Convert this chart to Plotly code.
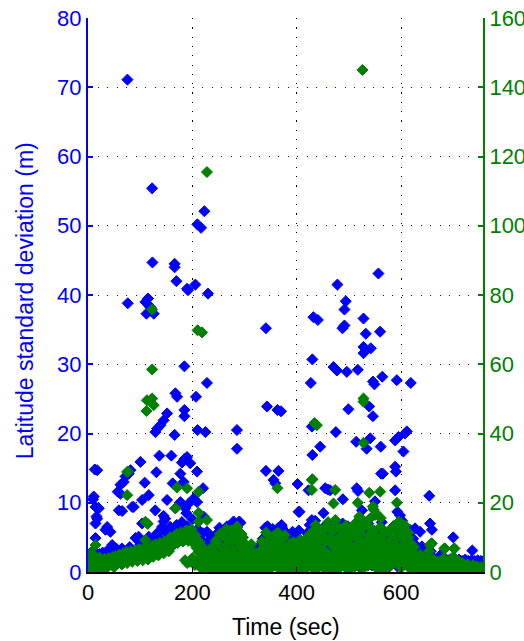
import plotly.graph_objects as go

# ---------------- data ----------------
# Blue series: latitude standard deviation (m), left axis
blue_t = [
    75.6, 122.9, 223, 209.6, 216.6, 123.5, 166, 166, 169.4, 189.8, 191.7, 205.8, 230, 76.2, 110, 116.4, 112, 126, 120, 115, 341,
    556.6, 478, 494, 491.5, 432, 440.5, 528, 491.5, 487.7, 532.4, 559.8, 528, 542, 528, 430, 470.5, 477, 496, 517, 427, 546, 549,
    564, 591.8, 618.6, 499, 538.8, 546, 429, 475, 370, 363, 343,
    184.7, 228, 167.5, 170.7, 207, 184.7, 184.7, 151.6, 145, 138.8, 132.5, 129.2, 166, 210, 225, 285.5, 285.5,
    136.8, 159.8, 189.8, 184.7, 196, 180, 13, 100.5, 81.4, 78, 71.8, 68.5, 62.2, 57, 108.7, 131, 177, 209, 162.3, 183.4, 220.5,
    11, 9.6, 62.2, 103.7, 116.4, 177, 151.5, 14.4, 65.4, 59, 87.7, 209, 202.5, 129, 16.3, 167.5, 145, 188.5, 221.6, 14.4, 36.7,
    33.5, 103.7, 145, 158, 167.5, 180, 228, 91, 14.4, 116.4, 132.5, 46.3, 279, 269.5, 290, 260, 340, 365, 374.8, 341, 365, 355.6,
    359, 401.6, 403.5, 422.6,
    514, 540.7, 534, 561, 595, 588.6, 607.7, 611, 604.5, 588.6, 590, 565, 588.6, 515, 517.5, 654, 550, 525, 593, 598, 655.5, 659,
    636.4, 700, 736.5, 640, 617, 620.6, 569.4, 502.4, 445, 430, 454.6, 464, 488.4, 405.4, 429, 435.4, 451.3, 266.4, 292, 285.5,
    295, 343, 371.7, 378, 403.5, 250, 459.7, 561.7, 626.8, 17.6, 20.7, 17.6, 43, 97, 148, 142, 186.6, 193, 84.6,
    1, 2, 3, 5, 6, 8, 9, 11, 12, 14, 16, 18, 20, 22, 24, 26, 28, 30, 32, 34, 36, 38, 40, 42, 44, 46, 48, 50, 52, 54, 56, 58, 60,
    65, 70, 80, 90, 100, 110, 120, 130, 140, 150, 160, 170, 180, 190, 200, 205, 210, 215, 220, 225, 230,
    232, 235, 238, 240, 243, 246, 248, 250, 253, 256, 258, 261, 264, 266, 269, 272, 274, 277, 280, 283, 286, 288, 291, 294, 297,
    300, 303, 306, 309, 312, 315, 318, 321, 324, 327, 330, 333, 336, 339, 342, 345, 348, 351, 354, 357, 360, 363, 366, 369, 372,
    375, 378, 381, 384, 387, 390, 393, 396, 399, 402, 405, 408, 411, 414, 417, 420, 423, 426, 429, 432, 435, 438, 441, 444, 447,
    450, 453, 456, 459, 462, 465, 468, 471, 474, 477, 480, 483, 486, 489, 492, 495, 498, 501, 504, 507, 510, 513, 516, 519, 522,
    525, 528, 531, 534, 537, 540, 543, 546, 549, 552, 555, 558, 561, 564, 567, 570, 573, 576, 579, 582, 585, 588, 591, 594, 597,
    600, 603, 606, 609, 612, 615, 618, 621, 624, 627, 630, 633, 636, 639, 642, 645, 648, 651, 654, 657, 660, 663, 666, 669, 672,
    675, 678, 681, 684, 687, 690, 693, 696, 699, 702, 705, 708, 711, 714, 717, 720, 723, 726, 729, 732, 735, 738, 741, 744, 747,
    750, 753, 756,
]
blue_v = [
    71.1, 55.4, 52.1, 50.2, 49.7, 44.7, 44.5, 44.0, 42.0, 40.9, 40.7, 41.5, 40.2, 38.8, 39.0, 38.5, 37.3, 37.3, 38.2, 39.5, 35.2,
    43.1, 41.5, 39.1, 37.9, 36.8, 36.4, 36.6, 35.6, 35.2, 34.4, 34.7, 32.5, 32.3, 31.6, 30.7, 29.6, 29.1, 28.9, 29.2, 27.3, 27.5, 27.1,
    28.2, 27.7, 27.3, 23.5, 23.9, 22.5, 21.0, 20.2, 23.2, 23.4, 23.9,
    29.7, 27.3, 25.8, 25.3, 25.3, 23.4, 22.5, 22.9, 21.9, 21.2, 20.7, 20.2, 19.8, 20.5, 20.2, 20.5, 17.8,
    16.8, 16.8, 16.6, 16.3, 15.7, 15.8, 14.8, 15.9, 14.7, 14.2, 13.8, 13.0, 12.6, 11.6, 12.9, 14.4, 14.2, 14.5, 12.8, 13.0, 12.1,
    10.9, 10.5, 11.3, 10.4, 11.1, 10.1, 10.4, 9.4, 8.8, 8.9, 9.4, 10.1, 10.6, 8.9, 8.0, 9.2, 8.1, 8.5, 8.0, 7.0, 6.5,
    6.1, 7.0, 7.3, 6.5, 6.1, 6.1, 5.8, 4.9, 4.9, 5.1, 5.6, 3.9, 7.3, 6.5, 7.3, 5.1, 6.4, 6.4, 5.6, 14.6, 14.6, 13.3,
    12.8, 12.7, 8.7, 11.8,
    18.8, 19.3, 17.8, 18.1, 19.5, 19.0, 20.0, 20.3, 17.4, 15.2, 14.5, 14.2, 11.8, 12.1, 11.7, 11.0, 10.2, 8.9, 8.7, 8.2, 7.0, 6.1,
    5.8, 5.0, 3.1, 3.7, 6.1, 4.6, 5.1, 4.1, 18.1, 16.9, 12.1, 11.8, 10.5, 8.7, 7.5, 7.4, 8.5, 6.6, 7.1, 6.4,
    5.1, 6.3, 6.5, 5.8, 4.6, 2.2, 11.9, 14.2, 6.3, 14.7, 9.2, 7.7, 5.8, 5.1, 7.7, 6.5, 9.2, 9.9, 9.4,
    1.8, 0.8, 2.6, 1.4, 2.2, 3.0, 1.6, 2.4, 1.0, 2.8, 1.8, 2.4, 1.4, 2.6, 2.0, 1.6, 2.8, 2.2, 1.8, 2.6, 3.0, 2.0, 2.4, 1.6, 3.2, 2.2, 2.8, 1.8, 2.6, 3.4, 2.0, 2.6, 3.0,
    3.4, 2.8, 3.6, 3.0, 4.0, 3.6, 4.4, 5.0, 4.6, 5.6, 6.0, 6.8, 7.2, 6.6, 7.6, 5.4, 6.2, 4.8, 5.6, 3.6, 4.4,
    3.2, 1.2, 4.6, 2.4, 0.6, 3.6, 5.6, 2.2, 1.0, 4.2, 2.8, 5.2, 1.6, 3.8, 0.8, 4.8, 2.6, 6.0, 1.4, 3.4, 5.4, 2.0, 0.8, 4.0, 2.6,
    1.4, 3.2, 0.6, 2.2, 1.2, 2.8, 0.8, 1.8, 1.0, 2.4, 1.4, 3.0, 0.6, 4.4, 2.0, 5.8, 1.2, 3.6, 6.2, 2.4, 4.8, 1.0, 3.2, 5.6, 2.0,
    4.0, 0.8, 3.0, 1.6, 4.6, 2.4, 1.0, 3.8, 5.2, 2.0, 3.4, 0.8, 2.6, 4.4, 1.4, 5.6, 3.0, 1.0, 4.2, 2.2, 6.4, 1.6, 3.6, 5.0, 2.4,
    0.8, 4.0, 6.8, 2.0, 3.4, 5.6, 1.2, 4.6, 2.8, 6.0, 1.6, 3.8, 5.0, 2.2, 0.8, 4.4, 6.6, 2.6, 1.2, 3.8, 5.4, 2.0, 4.2, 0.8, 6.2,
    3.0, 1.6, 4.8, 2.4, 7.0, 3.4, 1.0, 5.2, 2.6, 4.0, 0.8, 6.0, 2.2, 3.6, 1.2, 4.6, 2.8, 5.8, 1.6, 3.8, 6.6, 2.0, 4.4, 1.0, 5.6,
    3.0, 6.2, 2.4, 4.0, 1.4, 3.2, 5.0, 2.0, 3.6, 1.6, 2.8, 1.8, 3.4, 2.2, 1.6, 2.6, 1.4, 2.2, 1.8, 3.0, 1.6, 2.0, 1.4, 1.8, 1.5,
    2.4, 1.6, 1.4, 2.0, 1.6, 1.4, 1.8, 1.5, 1.6, 2.0, 1.4, 1.6, 1.8, 1.4, 1.6, 1.5, 1.8, 1.4, 1.6, 1.5, 1.7, 1.4, 1.6, 1.5, 1.7,
    1.4, 1.6, 1.5,
]
# more blue readings in the dense strip (time, value)
blue_dense = [
    (234, 2.0), (237, 5.0), (241, 0.8), (245, 3.0), (249, 1.6), (252, 6.4), (255, 3.8), (259, 1.2), (263, 4.4), (267, 2.2),
    (271, 6.6), (275, 1.0), (279, 3.6), (282, 5.0), (285, 2.4), (289, 0.6), (293, 3.0), (296, 1.8), (299, 0.8), (302, 2.4),
    (305, 1.6), (308, 0.4), (311, 3.4), (314, 1.8), (317, 0.6), (320, 2.6), (323, 1.2), (326, 3.6), (329, 0.8), (332, 2.0),
    (335, 4.8), (338, 1.2), (341, 3.0), (344, 6.6), (347, 0.8), (350, 4.2), (353, 2.6), (356, 1.4), (359, 3.6), (362, 5.2),
    (365, 0.8), (368, 2.8), (371, 6.8), (374, 1.6), (377, 3.4), (380, 0.6), (383, 4.8), (386, 2.2), (389, 1.0), (392, 5.8),
    (395, 3.6), (398, 0.8), (401, 2.4), (404, 6.0), (407, 1.4), (410, 3.8), (413, 2.0), (416, 4.6), (419, 0.8), (422, 3.4),
    (425, 6.8), (428, 2.2), (431, 1.0), (434, 4.6), (437, 3.0), (440, 5.8), (443, 0.8), (446, 2.6), (449, 4.2), (452, 1.4),
    (455, 5.2), (458, 3.2), (461, 0.6), (464, 2.0), (467, 6.2), (470, 4.0), (473, 1.2), (476, 3.4), (479, 5.0), (482, 0.8),
    (485, 2.6), (488, 7.0), (491, 1.6), (494, 4.2), (497, 3.0), (500, 0.6), (503, 5.6), (506, 2.2), (509, 3.8), (512, 1.2),
    (515, 6.8), (518, 2.6), (521, 4.4), (524, 0.8), (527, 3.6), (530, 5.4), (533, 1.4), (536, 2.8), (539, 6.4), (542, 4.0),
    (545, 1.0), (548, 3.2), (551, 5.8), (554, 2.0), (557, 0.8), (560, 4.6), (563, 7.2), (566, 1.8), (569, 3.0), (572, 5.2),
    (575, 0.6), (578, 2.4), (581, 4.0), (584, 6.4), (587, 1.6), (590, 3.6), (593, 0.8), (596, 5.0), (599, 2.8), (602, 7.4),
    (605, 1.2), (608, 4.4), (611, 2.2), (614, 6.0), (617, 3.4), (620, 1.0), (623, 4.8), (626, 2.6), (629, 3.8), (632, 1.4),
]

# Green series: right axis (0-160)
green_t = [
    526, 228, 210, 218.6, 123, 123, 113, 123, 126, 112, 528, 528, 434, 438.6, 528,
    75, 77, 75, 170.7, 189.8, 212, 167.5, 212, 110, 114.5, 212, 228, 110, 14.4, 430,
    285.5, 365, 363, 429, 429, 473.7, 470.5, 539, 560, 517, 546, 592, 599.4, 659, 683, 702, 547, 550, 655.5, 288.6,
    1, 2, 3, 5, 6, 8, 10, 11, 13, 15, 17, 18, 20, 22, 24, 26, 28, 30, 32, 34, 36, 38, 40, 42, 44, 46, 48, 50, 52, 54, 56, 58, 60,
    62, 64, 66, 68, 70, 72, 74, 76, 78, 80, 82, 84, 86, 88, 90, 92, 94, 96, 98, 100, 102, 104, 106, 108, 110, 112, 114, 116, 118, 120,
    65, 75, 85, 95, 105, 115, 20, 35, 50,
    122, 124, 126, 128, 130, 132, 134, 136, 138, 140, 142, 144, 146, 148, 150, 152, 154, 156, 158, 160, 162, 164, 166, 168, 170,
    172, 174, 176, 178, 180, 182, 184, 186, 188, 190, 192, 194, 196, 198, 200, 202, 204, 206, 208, 210, 212, 214, 216, 218, 220,
    222, 224, 226, 228, 230,
    125, 135, 145, 155, 186, 190, 195, 200, 205, 210, 215, 220, 225,
    232, 234, 236, 238, 240, 242, 244, 246, 248, 250, 252, 254, 256, 258, 260, 262, 264, 266, 268, 270, 272, 274, 276, 278, 280,
    282, 284, 286, 288, 290, 292, 294, 296, 298, 300, 302, 304, 306, 308, 310, 312, 314, 316, 318, 320, 322, 324, 326, 328, 330,
    332, 334, 336, 338, 340, 342, 344, 346, 348, 350, 352, 354, 356, 358, 360, 362, 364, 366, 368, 370, 372, 374, 376, 378, 380,
    382, 384, 386, 388, 390, 392, 394, 396, 398, 400, 402, 404, 406, 408, 410, 412, 414, 416, 418, 420, 422, 424, 426, 428, 430,
    432, 434, 436, 438, 440, 442, 444, 446, 448, 450, 452, 454, 456, 458, 460, 462, 464, 466, 468, 470, 472, 474, 476, 478, 480,
    482, 484, 486, 488, 490, 492, 494, 496, 498, 500, 502, 504, 506, 508, 510, 512, 514, 516, 518, 520, 522, 524, 526, 528, 530,
    532, 534, 536, 538, 540, 542, 544, 546, 548, 550, 552, 554, 556, 558, 560, 562, 564, 566, 568, 570, 572, 574, 576, 578, 580,
    582, 584, 586, 588, 590, 592, 594, 596, 598, 600, 602, 604, 606, 608, 610, 612, 614, 616, 618, 620, 622, 624, 626, 628, 630,
    632, 634, 636, 638, 640, 642, 644, 646, 648, 650, 652, 654, 656, 658, 660, 662, 664, 666, 668, 670, 672, 674, 676, 678, 680,
    682, 684, 686, 688, 690, 692, 694, 696, 698, 700, 702, 704, 706, 708, 710, 712, 714, 716, 718, 720, 722, 724, 726, 728, 730,
    732, 734, 736, 738, 740, 742, 744, 746, 748, 750, 752, 754, 756,
]
green_v = [
    145, 115.5, 69.8, 69.2, 75.8, 58.5, 49.6, 50.1, 48.2, 46.5, 50.1, 49.2, 43.0, 42.4, 37.3,
    28.9, 29.0, 22.2, 24.4, 24.2, 23.2, 18.4, 17.1, 14.5, 13.9, 14.5, 15.0, 9.2, 7.8, 26.8,
    13.1, 11.2, 24.2, 26.6, 23.7, 23.7, 19.8, 22.9, 23.2, 20.0, 18.9, 20.0, 12.8, 8.3, 6.8, 6.8, 18.1, 16.5, 7.8, 11.6,
    2.0, 4.5, 1.0, 3.0, 5.5, 2.0, 1.2, 3.6, 2.4, 4.0, 1.5, 3.0, 2.2, 4.2, 1.8, 3.4, 2.6, 1.6, 3.8, 2.8, 1.9, 3.2, 4.0, 2.4, 3.6, 2.0, 4.4, 3.0, 2.2, 4.6, 3.4, 2.6, 5.0,
    3.6, 4.8, 3.0, 5.4, 4.0, 3.2, 5.8, 4.4, 3.4, 5.0, 6.0, 3.8, 4.8, 5.6, 4.2, 6.2, 5.0, 3.8, 6.6, 5.4, 4.4, 6.0, 5.0, 7.0, 4.6, 6.4, 5.6, 4.2, 6.8, 5.2,
    2.2, 2.6, 3.0, 3.2, 3.4, 3.6, 0.6, 1.0, 1.4,
    6.2, 7.6, 5.6, 7.0, 8.0, 6.4, 5.2, 7.4, 8.4, 6.0, 7.8, 6.8, 8.6, 7.2, 6.4, 9.0, 7.6, 8.4, 10.0, 8.8, 9.6, 7.8, 10.4, 9.0, 11.0,
    8.4, 10.0, 9.2, 11.4, 10.2, 8.8, 11.0, 9.6, 12.0, 10.4, 9.0, 11.6, 10.0, 12.4, 9.4, 11.0, 8.0, 10.6, 7.0, 9.2, 5.8, 8.6, 4.2, 7.4, 3.0,
    6.0, 2.0, 4.8, 1.2, 3.2,
    4.4, 4.8, 5.4, 6.0, 3.4, 2.6, 3.0, 4.0, 2.0, 2.6, 1.4, 1.0, 0.6,
    0.8, 4.0, 2.0, 6.0, 1.0, 3.2, 0.4, 5.0, 2.4, 8.0, 1.2, 4.6, 0.6, 6.8, 3.0, 10.0, 1.6, 5.4, 0.8, 8.6, 3.6, 12.0, 2.0, 6.4, 0.6,
    9.6, 4.2, 13.0, 1.4, 7.2, 2.8, 11.0, 0.8, 5.6, 3.4, 8.0, 1.0, 4.4, 0.4, 6.2, 2.0, 3.8, 0.8, 5.0, 1.6, 2.8, 0.6, 4.0, 1.2, 6.0,
    2.4, 0.6, 3.6, 7.6, 1.4, 5.2, 9.0, 2.6, 0.8, 6.6, 3.8, 10.2, 1.8, 7.0, 4.6, 11.2, 2.2, 8.2, 0.6, 5.8, 3.0, 9.6, 1.2, 6.4, 2.8,
    4.6, 0.8, 7.8, 3.4, 1.6, 5.6, 8.6, 2.0, 4.0, 0.6, 6.8, 2.6, 9.2, 1.0, 5.0, 3.2, 7.4, 0.8, 4.6, 8.4, 2.2, 6.0, 11.0, 1.4, 4.8,
    9.8, 2.6, 13.6, 0.8, 7.2, 3.8, 10.4, 1.8, 6.2, 12.2, 3.0, 8.8, 0.6, 5.4, 14.4, 2.4, 9.6, 4.4, 11.8, 1.2, 7.0, 15.0, 3.4, 8.2, 0.8,
    12.6, 5.8, 2.0, 10.2, 6.8, 1.6, 13.4, 4.2, 9.0, 0.8, 7.6, 3.0, 11.4, 5.2, 1.4, 14.0, 6.6, 9.8, 2.6, 16.0, 4.8, 12.4, 0.8, 8.6, 3.6,
    13.8, 6.0, 1.8, 10.6, 15.4, 4.0, 8.0, 2.2, 12.0, 6.8, 17.0, 1.0, 9.4, 4.6, 13.0, 2.8, 7.4, 10.8, 0.6, 5.6, 8.4, 3.2, 11.6, 1.6, 6.2,
    9.0, 2.4, 13.2, 4.8, 7.8, 11.0, 3.0, 14.6, 6.4, 1.2, 12.2, 9.4, 4.2, 13.4, 7.0, 2.0, 10.0, 5.2, 0.8, 8.0, 3.6, 1.4, 5.0, 2.4, 0.6,
    3.8, 1.6, 4.4, 0.8, 2.8, 1.2, 3.4, 0.6, 2.0, 4.2, 1.0, 6.0, 2.6, 8.2, 1.4, 3.6, 0.6, 2.2, 1.0, 3.0, 0.4, 1.8, 0.8, 2.6, 1.2,
    4.0, 6.8, 0.6, 2.2, 1.4, 3.0, 0.8, 2.0, 1.0, 4.4, 6.8, 0.6, 2.4, 1.2, 3.2, 0.6, 1.8, 0.8, 2.6, 1.0, 0.4, 1.6, 0.6, 2.2, 1.0,
    0.4, 1.4, 0.8, 2.0, 0.6, 1.2, 0.4, 1.6, 0.8, 1.0, 0.4, 1.2, 0.6,
]
# more green readings in the dense strip (time, value on right axis)
green_dense = [
    (233, 3.0), (237, 7.0), (241, 1.8), (245, 9.0), (249, 4.2), (253, 11.0), (257, 2.6), (261, 6.6), (265, 12.4), (269, 3.8),
    (273, 9.4), (277, 5.0), (281, 11.8), (285, 2.2), (289, 8.4), (293, 4.6), (297, 10.0), (301, 1.8), (305, 6.0), (309, 3.2),
    (313, 8.0), (317, 2.4), (321, 5.4), (325, 1.2), (329, 3.6), (333, 8.8), (337, 4.8), (341, 11.4), (345, 6.4), (349, 3.2),
    (353, 8.6), (357, 5.2), (361, 9.8), (365, 2.8), (369, 7.0), (373, 4.2), (377, 10.6), (381, 6.0), (385, 2.0), (389, 8.2),
    (393, 4.4), (397, 6.8), (401, 1.6), (405, 5.2), (409, 8.0), (413, 3.0), (417, 6.6), (421, 10.2), (425, 4.0), (429, 7.8),
    (433, 12.0), (437, 5.6), (441, 9.2), (445, 3.2), (449, 10.8), (453, 6.0), (457, 13.0), (461, 4.4), (465, 8.4), (469, 2.4),
    (473, 12.8), (477, 6.2), (481, 10.0), (485, 3.6), (489, 8.0), (493, 11.8), (497, 5.4), (501, 9.6), (505, 2.8), (509, 12.6),
    (513, 7.4), (517, 4.0), (521, 11.2), (525, 6.8), (529, 14.6), (533, 3.4), (537, 9.2), (541, 12.8), (545, 5.8), (549, 10.4),
    (553, 2.6), (557, 8.6), (561, 15.6), (565, 4.8), (569, 11.6), (573, 7.0), (577, 3.0), (581, 12.4), (585, 6.0), (589, 9.6),
    (593, 14.0), (597, 4.2), (601, 10.8), (605, 6.8), (609, 3.0), (613, 11.4), (617, 5.6), (621, 2.4), (625, 7.2), (629, 3.6),
    (633, 1.6), (637, 5.0), (641, 2.4), (645, 1.2), (649, 2.2), (653, 1.4), (657, 2.0), (661, 1.0), (665, 2.2), (669, 1.2),
    (673, 0.6), (677, 1.8), (681, 1.0), (685, 2.0), (689, 0.8), (693, 1.6), (697, 1.0), (701, 0.6), (705, 1.8), (709, 1.0),
    (713, 0.6), (717, 1.4), (721, 2.0), (725, 0.8), (729, 0.6), (733, 1.4), (737, 0.8), (741, 0.6), (745, 1.2), (749, 0.8),
    (753, 1.4), (757, 0.6),
]

x_ticks = [0, 200, 400, 600]
left_ticks = [0, 10, 20, 30, 40, 50, 60, 70, 80]
right_ticks = [0, 20, 40, 60, 80, 100, 120, 140, 160]

blue_x = blue_t + [p[0] for p in blue_dense]
blue_y = blue_v + [p[1] for p in blue_dense]
green_x = green_t + [p[0] for p in green_dense]
green_y = green_v + [p[1] for p in green_dense]

BLUE = "#0000FF"
GREEN = "#008000"
FONT = "Liberation Sans, Arial, Helvetica, sans-serif"

fig = go.Figure()
fig.add_trace(go.Scatter(
    x=blue_x, y=blue_y, mode="markers", yaxis="y",
    marker=dict(symbol="diamond", size=8.5, color=BLUE, line=dict(width=1, color=BLUE)),
    showlegend=False, hoverinfo="skip"))
fig.add_trace(go.Scatter(
    x=green_x, y=green_y, mode="markers", yaxis="y2",
    marker=dict(symbol="diamond", size=8.5, color=GREEN, line=dict(width=1, color=GREEN)),
    showlegend=False, hoverinfo="skip"))

fig.update_layout(
    width=524, height=641,
    margin=dict(l=88, r=41, t=18, b=69, pad=0),
    paper_bgcolor="white", plot_bgcolor="white",
    template="none",
    font=dict(family=FONT, size=22, color="black"),
    xaxis=dict(
        range=[0, 757], tickvals=x_ticks, ticktext=[str(v) for v in x_ticks],
        ticks="inside", ticklen=5, tickcolor="black", tickwidth=1,
        showline=True, linecolor="black", linewidth=1.5, mirror=False,
        showgrid=True, gridcolor="black", gridwidth=1.2, griddash="1.2px,8.1px",
        zeroline=False, automargin=False,
        tickfont=dict(family=FONT, size=22, color="black"),
    ),
    yaxis=dict(
        range=[0, 80], tickvals=left_ticks, ticktext=[str(v) for v in left_ticks],
        ticks="inside", ticklen=5, tickcolor=BLUE, tickwidth=1.5,
        showline=True, linecolor=BLUE, linewidth=2, mirror=False,
        showgrid=True, gridcolor=BLUE, gridwidth=1.2, griddash="1.2px,8.3px",
        zeroline=False, automargin=False,
        tickfont=dict(family=FONT, size=22, color=BLUE),
    ),
    yaxis2=dict(
        range=[0, 160], tickvals=right_ticks, ticktext=[str(v) for v in right_ticks],
        overlaying="y", side="right", anchor="x",
        ticks="inside", ticklen=5, tickcolor=GREEN, tickwidth=1.5,
        showline=True, linecolor=GREEN, linewidth=2, mirror=False,
        showgrid=False, zeroline=False, automargin=False,
        tickfont=dict(family=FONT, size=22, color=GREEN),
    ),
    annotations=[
        dict(text="Latitude standard deviation (m)", textangle=-90,
             xref="paper", yref="paper", x=-0.16, y=0.49,
             xanchor="center", yanchor="middle", showarrow=False,
             font=dict(family=FONT, size=23, color=BLUE)),
        dict(text="Time (sec)",
             xref="paper", yref="paper", x=0.5, y=-0.0994,
             xanchor="center", yanchor="middle", showarrow=False,
             font=dict(family=FONT, size=23, color="black")),
    ],
)

fig.write_html("out.html")
